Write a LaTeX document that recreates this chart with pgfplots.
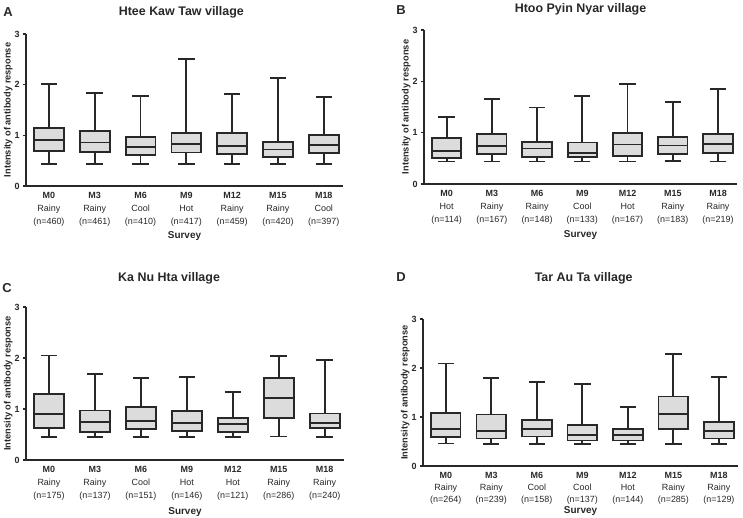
\documentclass[border=0pt]{standalone}
\usepackage{fontspec}
\setmainfont{Liberation Sans}
\usepackage{pgfplots}
\pgfplotsset{compat=1.18}
\usepgfplotslibrary{statistics}

\definecolor{boxgray}{RGB}{220,220,220}
\definecolor{ink}{RGB}{40,40,40}

\pgfplotsset{
  panel/.style={
    scale only axis, clip=false,
    axis lines=left, axis line style={-, line width=1.6pt, ink},
    ymin=0, ymax=3, ytick={0,1,2,3},
    xmin=-0.5, xmax=6.42, xtick={0,...,6},
    xtick style={draw=none},
    ytick style={line width=1.6pt, ink},
    tick align=outside, major tick length=3pt,
    /pgf/number format/assume math mode=true,
    yticklabel style={font=\bfseries\fontsize{9}{10}\selectfont, ink},
    xticklabel style={align=center, font=\fontsize{9}{13}\selectfont, ink},
    ylabel={Intensity of antibody response},
    ylabel style={font=\bfseries\fontsize{9.3}{10}\selectfont, ink, yshift=-5pt},
    xlabel={Survey},
    xlabel style={font=\bfseries\fontsize{10}{11}\selectfont, ink, yshift=2pt},
    title style={font=\bfseries\fontsize{12.5}{14}\selectfont, ink},
    boxplot/draw direction=y,
    boxplot/box extend=0.65, boxplot/whisker extend=0.36,
  },
  bx/.style={draw=ink, fill=boxgray, line width=1.8pt},
}

% \bx{position}{lower whisker}{Q1}{median}{Q3}{upper whisker}
\newcommand{\bx}[6]{%
  \addplot[bx, boxplot prepared={draw position=#1, lower whisker=#2,
    lower quartile=#3, median=#4, upper quartile=#5, upper whisker=#6}]
    coordinates {};}

\begin{document}
\begin{tikzpicture}[x=1bp, y=1bp]
\useasboundingbox (0,0) rectangle (743,518);

% A
\begin{axis}[panel, at={(26bp,332bp)}, anchor=south west,
  width=317bp, height=152bp,
  title={Htee Kaw Taw village},
  title style={at={(0.49,1)}, anchor=south, yshift=6bp},
  xticklabels={{\textbf{M0}\\Rainy\\(n=460)},{\textbf{M3}\\Rainy\\(n=461)},
    {\textbf{M6}\\Cool\\(n=410)},{\textbf{M9}\\Hot\\(n=417)},
    {\textbf{M12}\\Rainy\\(n=459)},{\textbf{M15}\\Rainy\\(n=420)},
    {\textbf{M18}\\Cool\\(n=397)}}]
\bx{0}{0.44}{0.69}{0.91}{1.15}{2.01}
\bx{1}{0.44}{0.67}{0.86}{1.08}{1.83}
\bx{2}{0.44}{0.61}{0.77}{0.96}{1.78}
\bx{3}{0.44}{0.66}{0.83}{1.04}{2.50}
\bx{4}{0.44}{0.63}{0.79}{1.04}{1.81}
\bx{5}{0.44}{0.57}{0.72}{0.87}{2.13}
\bx{6}{0.44}{0.65}{0.81}{1.00}{1.75}
\end{axis}

% B
\begin{axis}[panel, at={(424bp,334bp)}, anchor=south west,
  width=313bp, height=154bp,
  title={Htoo Pyin Nyar village},
  title style={at={(0.5,1)}, anchor=south, yshift=5bp},
  xlabel style={yshift=-1pt},
  xticklabels={{\textbf{M0}\\Hot\\(n=114)},{\textbf{M3}\\Rainy\\(n=167)},
    {\textbf{M6}\\Rainy\\(n=148)},{\textbf{M9}\\Cool\\(n=133)},
    {\textbf{M12}\\Hot\\(n=167)},{\textbf{M15}\\Rainy\\(n=183)},
    {\textbf{M18}\\Rainy\\(n=219)}}]
\bx{0}{0.44}{0.51}{0.64}{0.90}{1.31}
\bx{1}{0.44}{0.58}{0.74}{0.97}{1.66}
\bx{2}{0.44}{0.52}{0.69}{0.82}{1.49}
\bx{3}{0.44}{0.53}{0.61}{0.81}{1.71}
\bx{4}{0.44}{0.55}{0.77}{0.99}{1.95}
\bx{5}{0.45}{0.58}{0.75}{0.92}{1.59}
\bx{6}{0.44}{0.60}{0.78}{0.97}{1.85}
\end{axis}

% C
\begin{axis}[panel, at={(26bp,58bp)}, anchor=south west,
  width=318bp, height=153bp,
  title={Ka Nu Hta village},
  title style={at={(0.45,1)}, anchor=south, yshift=13bp},
  xlabel style={yshift=-2pt},
  xticklabels={{\textbf{M0}\\Rainy\\(n=175)},{\textbf{M3}\\Rainy\\(n=137)},
    {\textbf{M6}\\Cool\\(n=151)},{\textbf{M9}\\Hot\\(n=146)},
    {\textbf{M12}\\Hot\\(n=121)},{\textbf{M15}\\Rainy\\(n=286)},
    {\textbf{M18}\\Rainy\\(n=240)}}]
\bx{0}{0.45}{0.62}{0.90}{1.29}{2.05}
\bx{1}{0.45}{0.55}{0.75}{0.97}{1.69}
\bx{2}{0.45}{0.60}{0.77}{1.04}{1.60}
\bx{3}{0.45}{0.57}{0.72}{0.96}{1.62}
\bx{4}{0.45}{0.55}{0.71}{0.82}{1.33}
\bx{5}{0.46}{0.83}{1.22}{1.61}{2.04}
\bx{6}{0.45}{0.62}{0.72}{0.91}{1.96}
\end{axis}

% D
\begin{axis}[panel, at={(423bp,52bp)}, anchor=south west,
  width=315bp, height=147bp,
  title={Tar Au Ta village},
  title style={at={(0.51,1)}, anchor=south, yshift=25bp},
  xticklabel style={font=\fontsize{9}{12}\selectfont},
  xlabel style={yshift=3pt},
  xticklabels={{\textbf{M0}\\Rainy\\(n=264)},{\textbf{M3}\\Rainy\\(n=239)},
    {\textbf{M6}\\Cool\\(n=158)},{\textbf{M9}\\Cool\\(n=137)},
    {\textbf{M12}\\Hot\\(n=144)},{\textbf{M15}\\Rainy\\(n=285)},
    {\textbf{M18}\\Rainy\\(n=129)}}]
\bx{0}{0.46}{0.59}{0.76}{1.08}{2.09}
\bx{1}{0.45}{0.56}{0.72}{1.05}{1.79}
\bx{2}{0.45}{0.60}{0.76}{0.94}{1.72}
\bx{3}{0.45}{0.52}{0.63}{0.84}{1.67}
\bx{4}{0.45}{0.52}{0.63}{0.76}{1.21}
\bx{5}{0.45}{0.76}{1.06}{1.42}{2.28}
\bx{6}{0.45}{0.56}{0.72}{0.89}{1.81}
\end{axis}

% panel letters
\node[font=\bfseries\fontsize{13}{14}\selectfont, text=ink] at (8,506) {A};
\node[font=\bfseries\fontsize{13}{14}\selectfont, text=ink] at (401,508) {B};
\node[font=\bfseries\fontsize{13}{14}\selectfont, text=ink] at (7,230) {C};
\node[font=\bfseries\fontsize{13}{14}\selectfont, text=ink] at (401,241) {D};
\end{tikzpicture}
\end{document}
